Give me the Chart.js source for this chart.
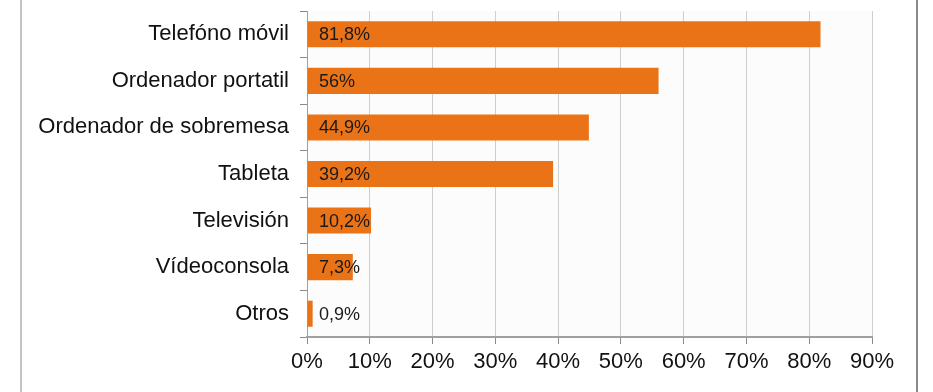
<!DOCTYPE html>
<html>
<head>
<meta charset="utf-8">
<script src="https://cdn.jsdelivr.net/npm/chart.js@4/dist/chart.umd.min.js"></script>
<style>
  html, body { margin: 0; padding: 0; background: #fff; }
  #wrap { position: relative; width: 933px; height: 392px; }
  #frameL { position: absolute; left: 20px; top: 0; width: 2px; height: 392px; background: #c4c4c4; }
  #frameR { position: absolute; left: 916px; top: 0; width: 2px; height: 392px; background: #8a8a8a; }
</style>
</head>
<body>
<div id="wrap">
  <canvas id="devChart" width="933" height="392"></canvas>
  <div id="frameL"></div>
  <div id="frameR"></div>
</div>
<script>
const categories = ["Telefóno móvil", "Ordenador portatil", "Ordenador de sobremesa", "Tableta", "Televisión", "Vídeoconsola", "Otros"];
const values = [81.8, 56, 44.9, 39.2, 10.2, 7.3, 0.9];
const valueLabels = ["81,8%", "56%", "44,9%", "39,2%", "10,2%", "7,3%", "0,9%"];
const xTicks = [0, 10, 20, 30, 40, 50, 60, 70, 80, 90];

const font = "'Liberation Sans', Arial, sans-serif";

const plotBg = {
  id: "plotBg",
  beforeDraw(chart) {
    const { ctx, chartArea: a } = chart;
    ctx.save();
    ctx.fillStyle = "#fcfcfc";
    ctx.fillRect(a.left, a.top, a.right - a.left, a.bottom - a.top);
    ctx.restore();
  },
};

const barLabels = {
  id: "barLabels",
  afterDatasetsDraw(chart) {
    const { ctx } = chart;
    const meta = chart.getDatasetMeta(0);
    const x0 = chart.scales.x.getPixelForValue(0);
    ctx.save();
    ctx.font = "18px " + font;
    ctx.fillStyle = "#1a1a1a";
    ctx.textBaseline = "middle";
    meta.data.forEach((bar, i) => {
      ctx.fillText(valueLabels[i], x0 + 12, bar.y + 1);
    });
    ctx.restore();
  },
};

new Chart(document.getElementById("devChart"), {
  type: "bar",
  data: {
    labels: categories,
    datasets: [{ data: values, backgroundColor: "#ea7318", barPercentage: 0.56, categoryPercentage: 1 }],
  },
  options: {
    indexAxis: "y",
    responsive: false, animation: false,
    layout: { padding: { top: 11, right: 61, left: 0, bottom: 0 } },
    plugins: { legend: { display: false }, tooltip: { enabled: false } },
    scales: {
      x: {
        min: 0, max: 90,
        afterFit: (s) => { s.height = 55; },
        afterBuildTicks: (s) => { s.ticks = xTicks.map((v) => ({ value: v })); },
        grid: { color: "#cfcfcf", tickColor: "#8a8a8a", tickLength: 7 },
        border: { color: "#a0a0a0", width: 2 },
        ticks: { color: "#111", padding: 5, font: { family: font, size: 22 }, callback: (v) => v + "%" },
      },
      y: {
        afterFit: (s) => { s.width = 307; s.paddingTop = 0; s.paddingBottom = 0; },
        grid: { drawOnChartArea: false, color: "#8a8a8a", tickLength: 7, offset: true },
        border: { color: "#a0a0a0", width: 1 },
        ticks: { color: "#111", padding: 11, font: { family: font, size: 22 } },
      },
    },
  },
  plugins: [plotBg, barLabels],
});
</script>
</body>
</html>
